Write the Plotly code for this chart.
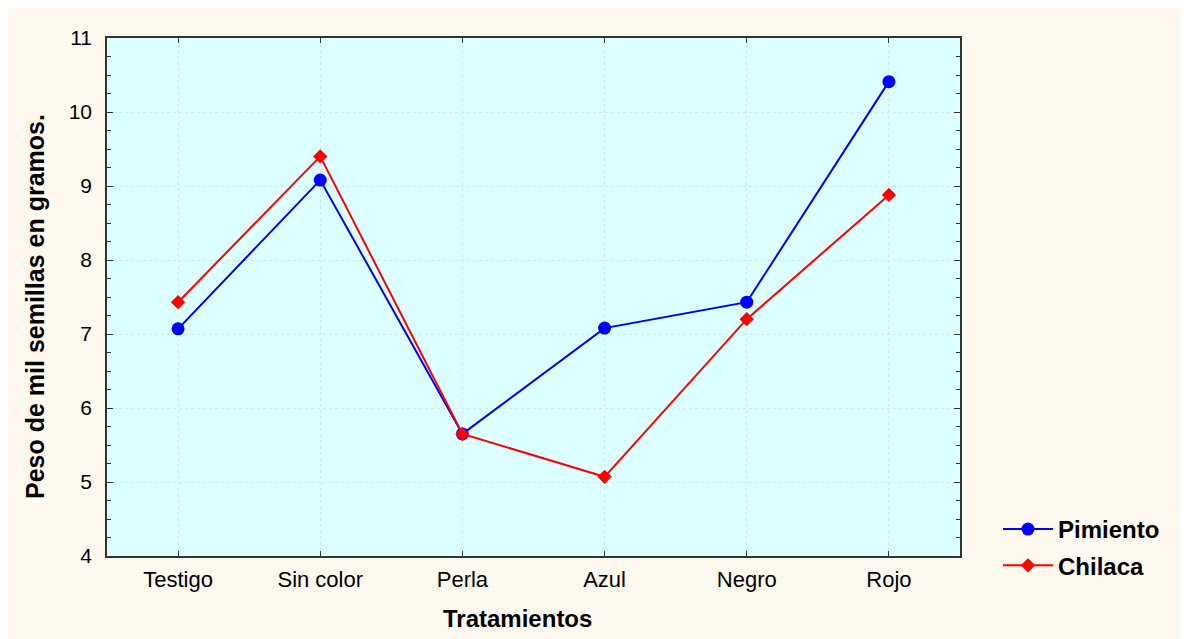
import plotly.graph_objects as go

categories = ["Testigo", "Sin color", "Perla", "Azul", "Negro", "Rojo"]
pimiento = [7.07, 9.08, 5.65, 7.08, 7.43, 10.41]
chilaca = [7.43, 9.40, 5.65, 5.07, 7.20, 8.88]

W, H = 1180, 631
L, R, T, B = 99, 952, 30, 548

fig = go.Figure()
fig.add_trace(go.Scatter(x=categories, y=pimiento, name="Pimiento", mode="lines+markers",
                         legendgroup="a",
                         line=dict(color="#0000FF", width=2),
                         marker=dict(symbol="circle", size=13, color="#0000FF")))
fig.add_trace(go.Scatter(x=categories, y=chilaca, name="Chilaca", mode="lines+markers",
                         legendgroup="b",
                         line=dict(color="#FF0000", width=2),
                         marker=dict(symbol="diamond", size=11, color="#FF0000")))

font = "Liberation Sans, Arial, sans-serif"
pw, ph = R - L, B - T
def px(x): return (x - L) / pw
def py(y): return (B - y) / ph

fig.update_layout(
    width=W, height=H,
    margin=dict(l=L, r=W - R, t=T, b=H - B, pad=0),
    paper_bgcolor="#FEF9EF",
    plot_bgcolor="#DCFFFF",
    font=dict(family=font, size=21, color="#000000"),
    showlegend=True,
    legend=dict(x=px(990), y=py(499), xanchor="left", yanchor="top",
                bgcolor="rgba(0,0,0,0)", font=dict(size=24, family=font, weight="bold"),
                tracegroupgap=2, itemwidth=50),
    annotations=[
        dict(text="<b>Tratamientos</b>", xref="paper", yref="paper", x=px(509), y=py(610),
             xanchor="center", yanchor="middle", showarrow=False,
             font=dict(size=24, family=font, color="#000000")),
        dict(text="<b>Peso de mil semillas en gramos.</b>", xref="paper", yref="paper",
             x=px(27), y=py(299), xanchor="center", yanchor="middle", textangle=-90,
             showarrow=False, font=dict(size=25, family=font, color="#000000")),
    ],
    xaxis=dict(
        range=[-0.5, 5.5], showline=True, linecolor="#333333", linewidth=1.5, mirror="ticks",
        ticks="inside", ticklen=5, tickcolor="#333333",
        showgrid=True, gridcolor="#CCEAEA", griddash="dot", gridwidth=1,
        tickfont=dict(size=22, family=font), ticklabelstandoff=3,
        zeroline=False,
    ),
    yaxis=dict(
        range=[4, 11], dtick=1, showline=True, linecolor="#333333", linewidth=1.5, mirror="ticks",
        ticks="inside", ticklen=6, tickcolor="#333333",
        showgrid=True, gridcolor="#CCEAEA", griddash="dot", gridwidth=1,
        tickfont=dict(size=21, family=font), ticklabelstandoff=9,
        minor=dict(dtick=0.25, ticks="inside", ticklen=4, tickcolor="#333333", showgrid=False),
        zeroline=False,
    ),
)

fig.write_html("out.html")
